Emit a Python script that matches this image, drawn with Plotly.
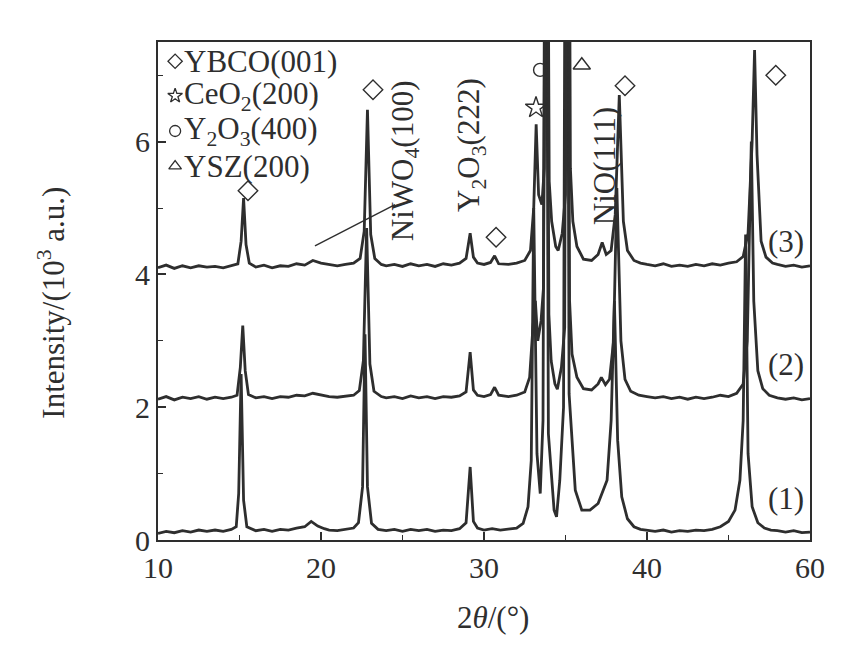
import plotly.graph_objects as go

# ---------------- data ----------------
# pattern (3) (top), pattern (2) (middle), pattern (1) (bottom): (2theta, intensity/10^3)
pattern3 = [(10.0,4.10),(10.5,4.14),(11.0,4.09),(11.5,4.13),(12.0,4.10),(12.5,4.13),(13.0,4.11),(13.5,4.12),
            (14.0,4.10),(14.5,4.13),(14.9,4.16),(15.1,4.50),(15.25,5.15),(15.4,4.45),(15.6,4.17),(16.0,4.11),
            (16.5,4.14),(17.0,4.10),(17.5,4.13),(18.0,4.12),(18.5,4.16),(19.0,4.14),(19.5,4.21),(20.0,4.17),
            (20.5,4.15),(21.0,4.13),(21.5,4.15),(22.0,4.17),(22.4,4.24),(22.65,4.65),(22.85,6.48),(23.05,4.60),
            (23.3,4.24),(23.7,4.15),(24.0,4.13),(24.5,4.15),(25.0,4.12),(25.5,4.16),(26.0,4.13),(26.5,4.15),
            (27.0,4.12),(27.5,4.16),(28.0,4.14),(28.5,4.17),(28.9,4.24),(29.15,4.62),(29.35,4.26),(29.6,4.17),
            (30.0,4.15),(30.4,4.18),(30.65,4.28),(30.9,4.16),(31.5,4.15),(32.0,4.17),(32.5,4.21),(32.85,4.36),
            (33.05,5.00),(33.2,6.26),(33.35,5.20),(33.55,5.05),(33.7,5.60),(33.85,14.0),(34.0,5.40),(34.15,4.80),
            (34.4,4.42),(34.55,4.36),(34.8,4.62),(35.0,5.20),(35.15,16.0),(35.3,5.60),(35.45,4.80),(35.7,4.42),
            (36.1,4.23),(36.6,4.21),(37.0,4.30),(37.25,4.48),(37.5,4.30),(37.8,4.36),(38.05,4.90),(38.3,6.70),
            (38.55,4.80),(38.8,4.36),(39.2,4.21),(39.6,4.17),(40.0,4.15),(40.5,4.13),(41.0,4.16),(41.5,4.12),
            (42.0,4.14),(42.5,4.12),(43.0,4.15),(43.5,4.13),(44.0,4.16),(44.5,4.14),(45.0,4.17),(45.5,4.19),
            (45.9,4.27),(46.2,4.62),(46.45,6.00),(46.6,7.38),(46.75,5.80),(47.0,4.50),(47.3,4.26),(47.7,4.17),
            (48.0,4.15),(48.5,4.12),(49.0,4.14),(49.5,4.11),(50.0,4.13)]

pattern2 = [(10.0,2.12),(10.5,2.16),(11.0,2.11),(11.5,2.15),(12.0,2.13),(12.5,2.16),(13.0,2.12),(13.5,2.15),
            (14.0,2.13),(14.5,2.15),(14.85,2.18),(15.05,2.60),(15.2,3.23),(15.35,2.55),(15.55,2.19),(16.0,2.14),
            (16.5,2.16),(17.0,2.13),(17.5,2.16),(18.0,2.15),(18.5,2.18),(19.0,2.17),(19.5,2.21),(20.0,2.18),
            (20.5,2.16),(21.0,2.15),(21.5,2.17),(22.0,2.18),(22.35,2.25),(22.6,2.70),(22.8,4.70),(23.0,2.65),
            (23.25,2.24),(23.7,2.16),(24.0,2.14),(24.5,2.16),(25.0,2.13),(25.5,2.17),(26.0,2.14),(26.5,2.16),
            (27.0,2.13),(27.5,2.16),(28.0,2.15),(28.5,2.17),(28.9,2.23),(29.15,2.83),(29.35,2.26),(29.6,2.18),
            (30.0,2.16),(30.4,2.19),(30.65,2.30),(30.9,2.18),(31.5,2.16),(32.0,2.18),(32.5,2.23),(32.8,2.45),
            (33.0,3.20),(33.15,3.60),(33.3,3.00),(33.5,3.30),(33.65,3.80),(33.82,14.0),(33.98,3.40),(34.12,2.70),
            (34.35,2.35),(34.5,2.27),(34.75,2.60),(34.95,3.20),(35.1,16.0),(35.25,3.60),(35.4,2.80),(35.7,2.45),
            (36.1,2.28),(36.6,2.26),(37.0,2.35),(37.2,2.45),(37.45,2.34),(37.7,2.42),(37.95,3.00),(38.15,5.30),
            (38.4,3.00),(38.65,2.42),(39.0,2.24),(39.5,2.18),(40.0,2.16),(40.5,2.14),(41.0,2.16),(41.5,2.13),
            (42.0,2.15),(42.5,2.12),(43.0,2.15),(43.5,2.13),(44.0,2.15),(44.5,2.18),(45.0,2.16),(45.5,2.21),
            (45.9,2.35),(46.15,3.00),(46.4,6.00),(46.55,3.60),(46.8,2.55),(47.1,2.28),(47.5,2.18),(48.0,2.14),
            (48.5,2.12),(49.0,2.14),(49.5,2.11),(50.0,2.13)]

pattern1 = [(10.0,0.10),(10.5,0.13),(11.0,0.11),(11.5,0.14),(12.0,0.12),(12.5,0.15),(13.0,0.13),(13.5,0.15),
            (14.0,0.13),(14.5,0.16),(14.8,0.20),(14.95,0.70),(15.1,2.50),(15.25,0.60),(15.45,0.20),(16.0,0.14),
            (16.5,0.16),(17.0,0.13),(17.5,0.16),(18.0,0.15),(18.5,0.18),(19.0,0.20),(19.4,0.28),(19.8,0.21),
            (20.2,0.17),(20.5,0.15),(21.0,0.14),(21.5,0.16),(22.0,0.18),(22.3,0.26),(22.55,0.80),(22.7,3.10),
            (22.85,0.80),(23.1,0.25),(23.5,0.16),(24.0,0.14),(24.5,0.16),(25.0,0.13),(25.5,0.16),(26.0,0.14),
            (26.5,0.16),(27.0,0.13),(27.5,0.15),(28.0,0.14),(28.5,0.17),(28.9,0.26),(29.15,1.10),(29.35,0.28),
            (29.6,0.18),(30.0,0.15),(30.5,0.17),(31.0,0.15),(31.5,0.16),(32.0,0.18),(32.4,0.25),(32.7,0.50),
            (32.9,1.20),(33.05,5.00),(33.25,1.30),(33.45,0.70),(33.62,1.80),(33.78,14.0),(33.95,1.60),(34.3,0.45),
            (34.45,0.35),(34.65,0.90),(34.88,2.00),(35.05,16.0),(35.22,2.20),(35.6,0.75),(36.0,0.45),(36.5,0.45),
            (37.0,0.55),(37.3,0.75),(37.55,0.90),(37.8,1.80),(38.0,3.60),(38.2,1.50),(38.45,0.65),(38.8,0.32),
            (39.2,0.20),(39.6,0.16),(40.0,0.15),(40.5,0.13),(41.0,0.15),(41.5,0.12),(42.0,0.14),(42.5,0.13),
            (43.0,0.15),(43.5,0.14),(44.0,0.16),(44.5,0.20),(45.0,0.28),(45.4,0.45),(45.7,0.90),(45.9,1.80),
            (46.05,4.60),(46.2,1.30),(46.45,0.50),(46.8,0.26),(47.2,0.18),(47.6,0.15),(48.0,0.14),(48.5,0.12),
            (49.0,0.14),(49.5,0.11),(50.0,0.12)]

# x tick values and the labels printed on the original axis
x_tickvals = [10, 20, 30, 40, 50]
x_ticktext = ["10", "20", "30", "40", "60"]
y_tickvals = [0, 2, 4, 6]

# peak markers
diamond_marks = [(15.52, 5.26), (23.19, 6.78), (30.74, 4.56), (38.65, 6.84), (47.9, 7.0)]
star_marks = [(33.19, 6.51)]
circle_marks = [(33.44, 7.08)]
triangle_marks = [(36.0, 7.15)]

legend_items = ["YBCO(001)", "CeO<sub>2</sub>(200)", "Y<sub>2</sub>O<sub>3</sub>(400)", "YSZ(200)"]
legend_symbols = ["diamond-open", "star-open", "circle-open", "triangle-up-open"]
legend_y = [7.21, 6.69, 6.16, 5.63]

curve_labels = ["(3)", "(2)", "(1)"]
curve_label_y = [4.5, 2.64, 0.63]

INK = "#2e2e2e"
FONT = "Liberation Serif, Times New Roman, serif"
FS = 31

fig = go.Figure()

for pat in (pattern1, pattern2, pattern3):
    xs = [p[0] for p in pat]
    ys = [p[1] for p in pat]
    fig.add_trace(go.Scatter(x=xs, y=ys, mode="lines",
                             line=dict(color=INK, width=2.8), showlegend=False,
                             hoverinfo="skip"))

def add_marks(pts, symbol, size):
    fig.add_trace(go.Scatter(x=[p[0] for p in pts], y=[p[1] for p in pts], mode="markers",
                             marker=dict(symbol=symbol, size=size, color=INK,
                                         line=dict(color=INK, width=1.4)),
                             showlegend=False, hoverinfo="skip", cliponaxis=False))

add_marks(diamond_marks, "diamond-open", 15)
add_marks(star_marks, "star-open", 16)
add_marks(circle_marks, "circle-open", 13)
add_marks(triangle_marks, "triangle-up-open", 15)

# legend block (top-left)
for sym, yy in zip(legend_symbols, legend_y):
    fig.add_trace(go.Scatter(x=[11.05], y=[yy], mode="markers",
                             marker=dict(symbol=sym, size=11, color=INK, line=dict(color=INK, width=1.3)),
                             showlegend=False, hoverinfo="skip", cliponaxis=False))
for txt, yy in zip(legend_items, legend_y):
    fig.add_annotation(x=11.5, y=yy, text=txt, showarrow=False, xanchor="left", yanchor="middle",
                       font=dict(family=FONT, size=FS, color=INK))

# rotated phase labels
rot_labels = [("NiWO<sub>4</sub>(100)", 25.15, 5.72),
              ("Y<sub>2</sub>O<sub>3</sub>(222)", 29.2, 5.95),
              ("NiO(111)", 37.36, 5.63)]
for txt, xx, yy in rot_labels:
    fig.add_annotation(x=xx, y=yy, text=txt, showarrow=False, textangle=-90,
                       xanchor="center", yanchor="middle",
                       font=dict(family=FONT, size=FS, color=INK))

# callout line for NiWO4
fig.add_shape(type="line", x0=19.63, y0=4.43, x1=24.54, y1=5.05,
              line=dict(color=INK, width=1.4))

for txt, yy in zip(curve_labels, curve_label_y):
    fig.add_annotation(x=48.53, y=yy, text=txt, showarrow=False, xanchor="center", yanchor="middle",
                       font=dict(family=FONT, size=FS, color=INK))

# axis titles
fig.add_annotation(xref="paper", yref="paper", x=0.514, y=-0.155, text="2<i>θ</i>/(°)",
                   showarrow=False, xanchor="center", yanchor="middle",
                   font=dict(family=FONT, size=FS, color=INK))
fig.add_annotation(xref="paper", yref="paper", x=-0.163, y=0.476, text="Intensity/(10<sup>3</sup> a.u.)",
                   showarrow=False, textangle=-90, xanchor="center", yanchor="middle",
                   font=dict(family=FONT, size=FS, color=INK))

fig.update_xaxes(range=[10, 50], tickvals=x_tickvals, ticktext=x_ticktext,
                 ticks="inside", ticklen=8, tickwidth=1.5, tickcolor=INK,
                 minor=dict(tickvals=[15, 25, 35, 45], ticks="inside", ticklen=5, tickcolor=INK, tickwidth=1.3),
                 showline=True, linecolor=INK, linewidth=2, mirror=True,
                 showgrid=False, zeroline=False,
                 tickfont=dict(family=FONT, size=30, color=INK))
fig.update_yaxes(range=[0, 7.5], tickvals=y_tickvals,
                 ticks="inside", ticklen=8, tickwidth=1.5, tickcolor=INK,
                 minor=dict(tickvals=[1, 3, 5, 7], ticks="inside", ticklen=5, tickcolor=INK, tickwidth=1.3),
                 showline=True, linecolor=INK, linewidth=2, mirror=True,
                 showgrid=False, zeroline=False,
                 tickfont=dict(family=FONT, size=30, color=INK))

fig.update_layout(width=852, height=655,
                  margin=dict(l=150, r=50, t=34, b=123),
                  paper_bgcolor="white", plot_bgcolor="white",
                  showlegend=False)

fig.write_html("out.html")
